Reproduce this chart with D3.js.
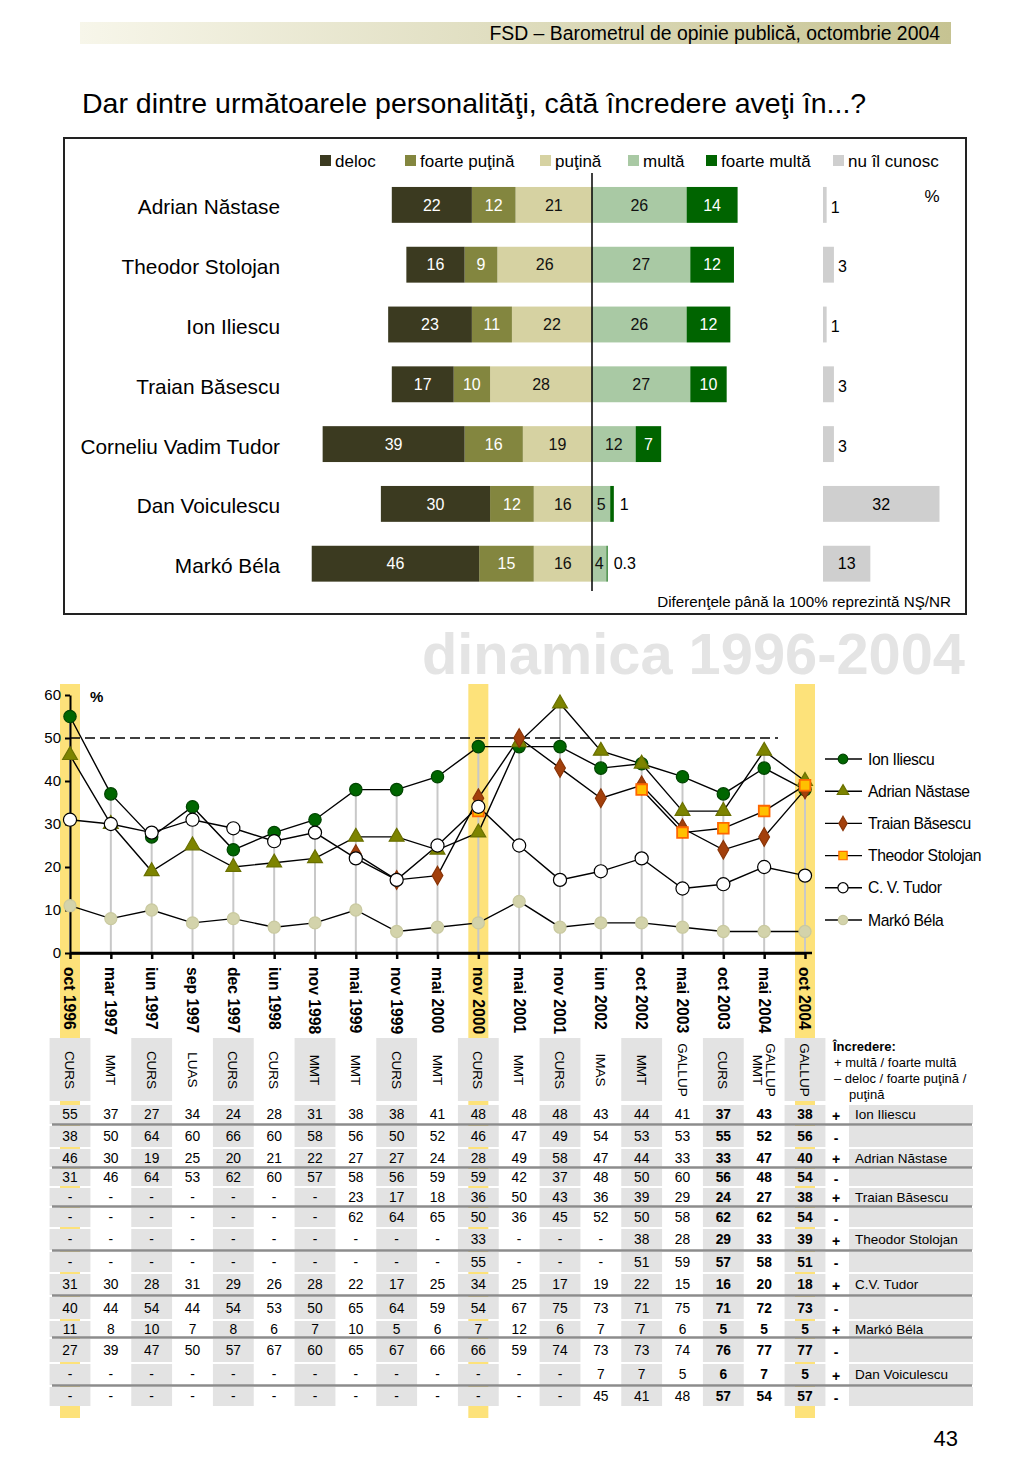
<!DOCTYPE html>
<html><head><meta charset="utf-8">
<script src="https://cdn.jsdelivr.net/npm/d3@7"></script>
<style>
body{margin:0;background:#fff}
svg{display:block}
text{font-family:"Liberation Sans",Arial,Helvetica,sans-serif;fill:#000}
</style>
</head><body>
<svg id="c" width="1024" height="1479"></svg>
<script>
// ---------------- DATA ----------------
const headerText = "FSD  –  Barometrul de opinie publică, octombrie 2004";
const titleText = "Dar dintre următoarele personalităţi, câtă încredere aveţi în...?";

const persons = ["Adrian Năstase","Theodor Stolojan","Ion Iliescu","Traian Băsescu","Corneliu Vadim Tudor","Dan Voiculescu","Markó Béla"];
const trustLevels = ["deloc","foarte puţină","puţină","multă","foarte multă","nu îl cunosc"];
const deloc        = [22,16,23,17,39,30,46];
const foartePutina = [12, 9,11,10,16,12,15];
const putina       = [21,26,22,28,19,16,16];
const multa        = [26,27,26,27,12, 5, 4];
const foarteMulta  = [14,12,12,10, 7, 1,0.3];
const nuIlCunosc   = [ 1, 3, 1, 3, 3,32,13];

const waves = ["oct 1996","mar 1997","iun 1997","sep 1997","dec 1997","iun 1998","nov 1998","mai 1999","nov 1999","mai 2000","nov 2000","mai 2001","nov 2001","iun 2002","oct 2002","mai 2003","oct 2003","mai 2004","oct 2004"];
const sources = ["CURS","MMT","CURS","LUAS","CURS","CURS","MMT","MMT","CURS","MMT","CURS","MMT","CURS","IMAS","MMT","GALLUP","CURS","GALLUP|MMT","GALLUP"];
const highlightedWaves = ["oct 1996","nov 2000","oct 2004"];
const yTicks = [0,10,20,30,40,50,60];

const _ = null;
const iliescuPlus     = [55,37,27,34,24,28,31,38,38,41,48,48,48,43,44,41,37,43,38];
const iliescuMinus    = [38,50,64,60,66,60,58,56,50,52,46,47,49,54,53,53,55,52,56];
const nastasePlus     = [46,30,19,25,20,21,22,27,27,24,28,49,58,47,44,33,33,47,40];
const nastaseMinus    = [31,46,64,53,62,60,57,58,56,59,59,42,37,48,50,60,56,48,54];
const basescuPlus     = [_,_,_,_,_,_,_,23,17,18,36,50,43,36,39,29,24,27,38];
const basescuMinus    = [_,_,_,_,_,_,_,62,64,65,50,36,45,52,50,58,62,62,54];
const stolojanPlus    = [_,_,_,_,_,_,_,_,_,_,33,_,_,_,38,28,29,33,39];
const stolojanMinus   = [_,_,_,_,_,_,_,_,_,_,55,_,_,_,51,59,57,58,51];
const tudorPlus       = [31,30,28,31,29,26,28,22,17,25,34,25,17,19,22,15,16,20,18];
const tudorMinus      = [40,44,54,44,54,53,50,65,64,59,54,67,75,73,71,75,71,72,73];
const markoPlus       = [11,8,10,7,8,6,7,10,5,6,7,12,6,7,7,6,5,5,5];
const markoMinus      = [27,39,47,50,57,67,60,65,67,66,66,59,74,73,73,74,76,77,77];
const voiculescuPlus  = [_,_,_,_,_,_,_,_,_,_,_,_,_,7,7,5,6,7,5];
const voiculescuMinus = [_,_,_,_,_,_,_,_,_,_,_,_,_,45,41,48,57,54,57];

const lineNames  = ["Ion Iliescu","Adrian Năstase","Traian Băsescu","Theodor Stolojan","C. V. Tudor","Markó Béla"];
const tableNames = ["Ion Iliescu","Adrian Năstase","Traian Băsescu","Theodor Stolojan","C.V. Tudor","Markó Béla","Dan Voiculescu"];

// ---------------- DRAW ----------------
const svg = d3.select("#c");
const defs = svg.append("defs");
const gr = defs.append("linearGradient").attr("id","hdr");
gr.append("stop").attr("offset","0%").attr("stop-color","#f7f6ea");
gr.append("stop").attr("offset","100%").attr("stop-color","#c6c392");

// header
svg.append("rect").attr("x",80).attr("y",22).attr("width",871).attr("height",22).attr("fill","url(#hdr)");
svg.append("text").attr("x",940).attr("y",40).attr("text-anchor","end")
  .style("font-size","19.4px").text(headerText);
svg.append("text").attr("x",82).attr("y",113)
  .style("font-size","28.5px").text(titleText);

// ---- top chart frame
svg.append("rect").attr("x",64).attr("y",138).attr("width",902).attr("height",476)
  .attr("fill","none").attr("stroke","#222").attr("stroke-width",2);

const colors = {"deloc":"#3b3a20","foarte puţină":"#83863f","puţină":"#d6d2a2","multă":"#a9c9a4","foarte multă":"#006400","nu îl cunosc":"#cfcfcf"};
const textColors = {"deloc":"#fff","foarte puţină":"#fff","puţină":"#111","multă":"#111","foarte multă":"#fff","nu îl cunosc":"#111"};

// legend
const legX = [320,405,540,628,706,833];
trustLevels.forEach((t,i)=>{
  svg.append("rect").attr("x",legX[i]).attr("y",155).attr("width",11).attr("height",11).attr("fill",colors[t]);
  svg.append("text").attr("x",legX[i]+15).attr("y",167).style("font-size","17px").text(t);
});

const xB = d3.scaleLinear().domain([-80,40]).range([300.8,737.6]);
const xN = d3.scaleLinear().domain([0,32]).range([823,939.5]);
const yB = d3.scaleBand().domain(persons).range([175,593.6]).paddingInner(0.4).paddingOuter(0.2);
const bh = yB.bandwidth();

persons.forEach((p,i)=>{
  const y = yB(p);
  svg.append("text").attr("x",280).attr("y",y+bh/2+2).attr("dy","0.36em").attr("text-anchor","end")
    .style("font-size","20.8px").text(p);
  const neg = [["puţină",putina[i]],["foarte puţină",foartePutina[i]],["deloc",deloc[i]]];
  let acc = 0;
  neg.forEach(([k,v])=>{
    const x0 = xB(-(acc+v)), x1 = xB(-acc);
    svg.append("rect").attr("x",x0).attr("y",y).attr("width",x1-x0).attr("height",bh).attr("fill",colors[k]);
    svg.append("text").attr("x",(x0+x1)/2).attr("y",y+bh/2).attr("dy","0.36em").attr("text-anchor","middle")
      .style("font-size","16px").style("fill",textColors[k]).text(v);
    acc += v;
  });
  const pos = [["multă",multa[i]],["foarte multă",foarteMulta[i]]];
  acc = 0;
  pos.forEach(([k,v])=>{
    const x0 = xB(acc), x1 = xB(acc+v);
    svg.append("rect").attr("x",x0).attr("y",y).attr("width",x1-x0).attr("height",bh).attr("fill",colors[k]);
    if (x1-x0 > 12) {
      svg.append("text").attr("x",(x0+x1)/2).attr("y",y+bh/2).attr("dy","0.36em").attr("text-anchor","middle")
        .style("font-size","16px").style("fill",textColors[k]).text(v);
    } else {
      svg.append("text").attr("x",x1+6).attr("y",y+bh/2).attr("dy","0.36em")
        .style("font-size","16px").text(v);
    }
    acc += v;
  });
  const v = nuIlCunosc[i];
  svg.append("rect").attr("x",xN(0)).attr("y",y).attr("width",xN(v)-xN(0)).attr("height",bh).attr("fill",colors["nu îl cunosc"]);
  if (v >= 8) {
    svg.append("text").attr("x",(xN(0)+xN(v))/2).attr("y",y+bh/2).attr("dy","0.36em").attr("text-anchor","middle")
      .style("font-size","16px").text(v);
  } else {
    svg.append("text").attr("x",xN(v)+4).attr("y",y+bh/2+2).attr("dy","0.36em")
      .style("font-size","16px").text(v);
  }
});
svg.append("line").attr("x1",xB(0)).attr("x2",xB(0)).attr("y1",173).attr("y2",591).attr("stroke","#000").attr("stroke-width",1.5);
svg.append("text").attr("x",932).attr("y",202).attr("text-anchor","middle").style("font-size","17px").text("%");
svg.append("text").attr("x",951).attr("y",607).attr("text-anchor","end").style("font-size","15.2px").text("Diferenţele până la 100% reprezintă NŞ/NR");

// watermark
svg.append("text").attr("x",965).attr("y",674).attr("text-anchor","end")
  .style("font-size","57.8px").style("font-weight","bold").style("fill","#e4e4e4").text("dinamica 1996-2004");

// ---- line chart
const xL = d3.scalePoint().domain(waves).range([70,805]);
const step = xL.step();
const yL = d3.scaleLinear().domain([0,60]).range([953,695]);

highlightedWaves.forEach(w=>{
  svg.append("rect").attr("x",xL(w)-10).attr("y",684).attr("width",20).attr("height",734)
    .attr("fill","#fde27a");
});

const plusSeries = [iliescuPlus,nastasePlus,basescuPlus,stolojanPlus,tudorPlus,markoPlus];

waves.forEach((w,j)=>{
  const mx = d3.max(plusSeries, s=>s[j]);
  svg.append("line").attr("x1",xL(w)).attr("x2",xL(w)).attr("y1",yL(mx)).attr("y2",yL(0))
    .attr("stroke","#c8c8c8").attr("stroke-width",2);
});

svg.append("line").attr("x1",70).attr("x2",778).attr("y1",yL(50)).attr("y2",yL(50))
  .attr("stroke","#000").attr("stroke-width",1.3).attr("stroke-dasharray","10,5");

const yAx = svg.append("g").attr("transform","translate(70,0)")
  .call(d3.axisLeft(yL).tickValues(yTicks).tickSize(5).tickSizeOuter(0).tickPadding(4));
yAx.selectAll("path,line").attr("stroke","#000").attr("stroke-width",2);
yAx.selectAll("text").style("font-size","15px").style("font-family",'"Liberation Sans",Arial,sans-serif').attr("fill","#000");
const xAx = svg.append("g").attr("transform","translate(0,953)")
  .call(d3.axisBottom(xL).tickSize(6).tickSizeOuter(0).tickFormat(""));
xAx.selectAll("path,line").attr("stroke","#000").attr("stroke-width",2.5);
svg.append("line").attr("x1",70).attr("x2",812).attr("y1",953).attr("y2",953).attr("stroke","#000").attr("stroke-width",2.5);
svg.append("text").attr("x",90).attr("y",702).style("font-size","15px").style("font-weight","bold").text("%");

const styles = [
  {shape:d3.symbolCircle,size:120,fill:"#006600",stroke:"#004400"},
  {shape:d3.symbolTriangle,size:95,fill:"#7d8400",stroke:"#6a7000"},
  {shape:d3.symbolDiamond,size:100,fill:"#a3400c",stroke:"#8a3508"},
  {shape:d3.symbolSquare,size:115,fill:"#ffc000",stroke:"#ff6600"},
  {shape:d3.symbolCircle,size:135,fill:"#ffffff",stroke:"#000"},
  {shape:d3.symbolCircle,size:115,fill:"#d3d3ab",stroke:"#c9c9a0"}
];
const line = d3.line().defined(d=>d.v!=null).x(d=>xL(d.w)).y(d=>yL(d.v));
plusSeries.forEach(s=>{
  svg.append("path").datum(waves.map((w,j)=>({w,v:s[j]})))
    .attr("d",line).attr("fill","none").attr("stroke","#000").attr("stroke-width",1.4);
});
plusSeries.forEach((s,k)=>{
  const st = styles[k];
  waves.forEach((w,j)=>{
    if (s[j]==null) return;
    svg.append("path").attr("d",d3.symbol().type(st.shape).size(st.size)())
      .attr("transform",`translate(${xL(w)},${yL(s[j])})`)
      .attr("fill",st.fill).attr("stroke",st.stroke).attr("stroke-width",st.shape===d3.symbolSquare?1.8:1.2);
  });
});

lineNames.forEach((n,k)=>{
  const y = 759 + k*32.2;
  const st = styles[k];
  svg.append("line").attr("x1",825).attr("x2",862).attr("y1",y).attr("y2",y).attr("stroke","#000").attr("stroke-width",1.4);
  svg.append("path").attr("d",d3.symbol().type(st.shape).size(st.size*0.6)())
    .attr("transform",`translate(843,${y})`).attr("fill",st.fill).attr("stroke",st.stroke).attr("stroke-width",1.2);
  svg.append("text").attr("x",868).attr("y",y).attr("dy","0.36em").style("font-size","15.7px").style("letter-spacing","-0.4px").text(n);
});

waves.forEach(w=>{
  svg.append("text").attr("transform",`translate(${xL(w)},967) rotate(90)`).attr("dy","0.36em")
    .style("font-size","15.7px").style("font-weight","bold").text(w);
});

sources.forEach((s,j)=>{
  const cx = xL(waves[j]);
  if (j%2===0) svg.append("rect").attr("x",cx-step/2).attr("y",1038).attr("width",step).attr("height",63).attr("fill","#e3e3e3");
  const parts = s.split("|");
  const t = svg.append("text").attr("transform",`translate(${cx},1070) rotate(90)`).attr("text-anchor","middle")
    .style("font-size","13.5px");
  parts.forEach((p,q)=>{
    t.append("tspan").attr("x",0).attr("dy", q===0 ? (parts.length>1?"-0.15em":"0.36em") : "1.0em").text(p);
  });
});

svg.append("text").attr("x",833).attr("y",1051).style("font-size","13px").style("font-weight","bold").text("Încredere:");
svg.append("text").attr("x",834).attr("y",1067).style("font-size","13px").text("+  multă / foarte multă");
svg.append("text").attr("x",834).attr("y",1083).style("font-size","13px").text("–  deloc / foarte puţină /");
svg.append("text").attr("x",849).attr("y",1099).style("font-size","13px").text("puţină");

const tableRows = [iliescuPlus,iliescuMinus,nastasePlus,nastaseMinus,basescuPlus,basescuMinus,stolojanPlus,stolojanMinus,
  tudorPlus,tudorMinus,markoPlus,markoMinus,voiculescuPlus,voiculescuMinus];
const rowB = [1104,1125,1148,1168,1187,1207,1228,1251,1273,1296,1320,1338,1363,1386,1407];
tableRows.forEach((r,i)=>{
  const top = rowB[i], bot = rowB[i+1], mid = (top+bot)/2;
  waves.forEach((w,j)=>{
    const cx = xL(w);
    if (j%2===0) svg.append("rect").attr("x",cx-step/2).attr("y",top+1).attr("width",step).attr("height",bot-top-2).attr("fill","#e3e3e3");
    svg.append("text").attr("x",cx).attr("y",mid).attr("dy","0.36em").attr("text-anchor","middle")
      .style("font-size","13.8px").style("font-weight", j>=16?"bold":"normal")
      .text(r[j]==null?"-":r[j]);
  });
  svg.append("rect").attr("x",849).attr("y",top+1).attr("width",124).attr("height",bot-top-2).attr("fill","#e3e3e3");
  svg.append("text").attr("x",836).attr("y",mid+1).attr("dy","0.36em").attr("text-anchor","middle")
    .style("font-size","14px").style("font-weight","bold").text(i%2===0?"+":"-");
  if (i%2===0) svg.append("text").attr("x",855).attr("y",mid).attr("dy","0.36em").style("font-size","13.5px").text(tableNames[i/2]);
});
[1,3,5,7,9,11,13].forEach(k=>{
  svg.append("line").attr("x1",52).attr("x2",972).attr("y1",rowB[k]-0.5).attr("y2",rowB[k]-0.5).attr("stroke","#8c8c8c").attr("stroke-width",2.5);
});

svg.append("text").attr("x",958).attr("y",1446).attr("text-anchor","end").style("font-size","22px").text("43");
</script>
</body></html>
